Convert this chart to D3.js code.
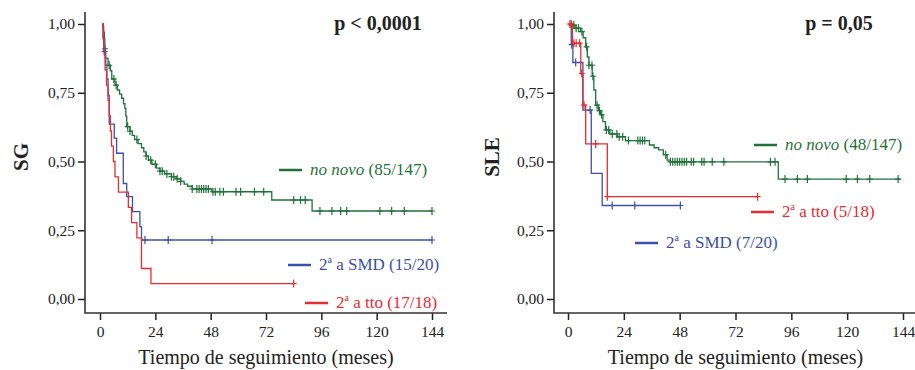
<!DOCTYPE html>
<html>
<head>
<meta charset="utf-8">
<script src="https://cdn.jsdelivr.net/npm/d3@7"></script>
<style>
  body { margin: 0; background: #fff; }
  text { font-family: "Liberation Serif", "Times New Roman", serif; }
</style>
</head>
<body>
<script>
var width = 915,
    height = 370,
    colors = {green: "#1f7239", blue: "#3d4fa8", red: "#eb2b30"},
    xTicks = [0, 24, 48, 72, 96, 120, 144],
    yTicks = [0, 0.25, 0.5, 0.75, 1];

// SG (supervivencia global) - [meses, supervivencia] tras cada caida
var sgNoNovo = [[1,1],[1.3,0.99],[1.6,0.97],[1.9,0.945],[2.1,0.91],[2.3,0.876],[3.5,0.85],[4.5,0.83],[5.1,0.80],[6.5,0.778],[7.5,0.76],[8.5,0.745],[9.4,0.73],[10.2,0.71],[10.8,0.693],[11.2,0.665],[11.6,0.627],[13,0.61],[14,0.595],[15,0.58],[16.5,0.565],[18,0.55],[19,0.535],[20,0.52],[21,0.505],[22.5,0.49],[24.5,0.476],[26,0.465],[28,0.455],[31,0.445],[33,0.437],[35,0.428],[36.5,0.418],[38,0.41],[40,0.40],[48.5,0.39],[74.5,0.36],[92,0.32]];
var sgNoNovoEnd = 144;
var sgNoNovoCens = [2.2,4,6,7,12,13,16,20,22,24,26,27,29,31,32,33.5,35,40,42,43,44,45,46,47,49,50,52,53.5,59,61,67,71,84,87,89,95.4,100.6,104.4,107,121.4,126.5,132,144];

var sgSmd = [[1,1],[1.3,0.95],[1.6,0.90],[2.5,0.85],[3,0.80],[3.5,0.74],[4,0.636],[6.2,0.585],[7.2,0.53],[10.1,0.42],[11.6,0.372],[14.1,0.318],[17.3,0.263],[18,0.2145]];
var sgSmdEnd = 144;
var sgSmdCens = [2, 19.5, 29.6, 48.6, 144];

var sgTto = [[1,1],[1.4,0.944],[1.8,0.889],[2.2,0.833],[2.8,0.778],[3.5,0.722],[4,0.667],[4.5,0.611],[5,0.556],[5.8,0.5],[6.5,0.444],[8,0.389],[12.3,0.333],[13.7,0.278],[16,0.222],[18,0.111],[22.1,0.056]];
var sgTtoEnd = 84;
var sgTtoCens = [84];

// SLE (supervivencia libre de evento)
var sleNoNovo = [[0.5,1],[1,0.996],[3,0.985],[5.4,0.972],[6.5,0.95],[7.6,0.917],[8.3,0.88],[9,0.85],[10.4,0.81],[11.1,0.76],[11.9,0.705],[13,0.685],[14,0.67],[15,0.645],[16.1,0.615],[18,0.60],[21.1,0.59],[24.7,0.576],[35,0.56],[37,0.55],[39,0.542],[41,0.525],[42.6,0.505],[44,0.499],[90.4,0.436]];
var sleNoNovoEnd = 143;
var sleNoNovoCens = [1.5,2.5,3.5,4.5,6,8,9,10.3,10.7,12.5,13.5,14.5,16.5,17.5,19,21,22,23.5,26,30,31,32,33,42,44,45,46,47,48,49,50,51,53,54,57.5,58.5,62,67,87,89,93.3,98.6,102.9,119.6,124.4,129.7,141.9];

var sleSmd = [[0.5,1],[1.4,0.925],[2.1,0.86],[6.4,0.687],[10,0.457],[14.7,0.34]];
var sleSmdEnd = 48.3;
var sleSmdCens = [1.6, 3.3, 9.5, 19, 28.7, 48.3];

var sleTto = [[0.5,1],[1.9,0.93],[5.5,0.82],[6.4,0.705],[7.6,0.564],[16.9,0.372]];
var sleTtoEnd = 81.5;
var sleTtoCens = [0.8, 1.4, 2.5, 3.5, 5, 5.9, 6.9, 11.9, 16.9, 81.5];

var fmt = function(d) { return d3.format(".2f")(d).replace(".", ","); };

var svg = d3.select("body").append("svg")
  .attr("width", width)
  .attr("height", height);

var y = d3.scaleLinear().domain([0, 1]).range([299, 24]);

var panels = [
  {
    xRange: [100, 432], axisX: 85, axisEnd: 447, label: "SG", labelX: 21, pval: "p < 0,0001", pvalX: 378,
    series: [
      {pts: sgNoNovo, end: sgNoNovoEnd, cens: sgNoNovoCens, color: colors.green},
      {pts: sgSmd, end: sgSmdEnd, cens: sgSmdCens, color: colors.blue},
      {pts: sgTto, end: sgTtoEnd, cens: sgTtoCens, color: colors.red}
    ],
    legend: [
      {x: 279, y: 170, color: colors.green, italic: "no novo", rest: " (85/147)"},
      {x: 288, y: 265, color: colors.blue, sup: true, rest: " a SMD (15/20)"},
      {x: 305, y: 303, color: colors.red, sup: true, rest: " a tto (17/18)"}
    ]
  },
  {
    xRange: [568, 903], axisX: 554, axisEnd: 916, label: "SLE", labelX: 492, pval: "p = 0,05", pvalX: 839,
    series: [
      {pts: sleNoNovo, end: sleNoNovoEnd, cens: sleNoNovoCens, color: colors.green},
      {pts: sleSmd, end: sleSmdEnd, cens: sleSmdCens, color: colors.blue},
      {pts: sleTto, end: sleTtoEnd, cens: sleTtoCens, color: colors.red}
    ],
    legend: [
      {x: 754, y: 145, color: colors.green, italic: "no novo", rest: " (48/147)"},
      {x: 751, y: 212, color: colors.red, sup: true, rest: " a tto (5/18)"},
      {x: 635, y: 243, color: colors.blue, sup: true, rest: " a SMD (7/20)"}
    ]
  }
];

function survAt(pts, t) {
  var s = pts[0][1];
  pts.forEach(function(p) { if (p[0] <= t) s = p[1]; });
  return s;
}

panels.forEach(function(p) {
  var x = d3.scaleLinear().domain([0, 144]).range(p.xRange);
  var g = svg.append("g");

  // ejes
  var ya = g.append("g")
    .attr("transform", "translate(" + p.axisX + ",0)")
    .call(d3.axisLeft(y).tickValues(yTicks).tickSize(7).tickPadding(3).tickFormat(fmt))
    .attr("font-family", null).attr("font-size", 15.5);
  ya.select(".domain").remove();

  var xa = g.append("g")
    .attr("transform", "translate(0,313)")
    .call(d3.axisBottom(x).tickValues(xTicks).tickSize(7).tickPadding(6))
    .attr("font-family", null).attr("font-size", 15.5);
  xa.select(".domain").remove();

  g.selectAll(".tick line").attr("stroke", "#222").attr("stroke-width", 1.5);
  g.selectAll(".tick text").attr("fill", "#222");

  g.append("path")
    .attr("d", "M" + p.axisX + ",12V313H" + p.axisEnd)
    .attr("fill", "none")
    .attr("stroke", "#333")
    .attr("stroke-width", 1.6);

  // curvas
  var line = d3.line()
    .x(function(d) { return x(d[0]); })
    .y(function(d) { return y(d[1]); })
    .curve(d3.curveStepAfter);

  p.series.forEach(function(s) {
    var pts = s.pts.concat([[s.end, s.pts[s.pts.length - 1][1]]]);
    g.append("path")
      .attr("d", line(pts))
      .attr("fill", "none")
      .attr("stroke", s.color)
      .attr("stroke-width", 1.3);

    g.selectAll(null)
      .data(s.cens)
      .enter()
      .append("path")
      .attr("d", function(t) {
        var cx = x(t), cy = y(survAt(s.pts, t));
        return "M" + cx + "," + (cy - 4) + "V" + (cy + 4) + "M" + (cx - 3) + "," + cy + "H" + (cx + 3);
      })
      .attr("stroke", s.color)
      .attr("stroke-width", 1.2)
      .attr("fill", "none");
  });

  // leyenda
  p.legend.forEach(function(l) {
    g.append("line")
      .attr("x1", l.x).attr("x2", l.x + 23)
      .attr("y1", l.y).attr("y2", l.y)
      .attr("stroke", l.color)
      .attr("stroke-width", 2.5);
    var t = g.append("text")
      .attr("x", l.x + 31)
      .attr("y", l.y)
      .attr("dy", "0.3em")
      .attr("font-size", 17)
      .attr("fill", l.color);
    if (l.italic) {
      t.append("tspan").attr("font-style", "italic").text(l.italic);
      t.append("tspan").text(l.rest);
    } else {
      t.append("tspan").text("2");
      t.append("tspan").attr("font-size", 10).attr("dy", -7).text("a");
      t.append("tspan").attr("dy", 7).text(l.rest);
    }
  });

  // titulos
  g.append("text")
    .attr("x", d3.mean(p.xRange))
    .attr("y", 364)
    .attr("text-anchor", "middle")
    .attr("font-size", 20)
    .attr("fill", "#222")
    .text("Tiempo de seguimiento (meses)");

  g.append("text")
    .attr("transform", "translate(" + (p.labelX + 7) + ",157) rotate(-90)")
    .attr("text-anchor", "middle")
    .attr("font-size", 21)
    .attr("font-weight", "bold")
    .attr("fill", "#222")
    .text(p.label);

  g.append("text")
    .attr("x", p.pvalX)
    .attr("y", 30)
    .attr("text-anchor", "middle")
    .attr("font-size", 20)
    .attr("font-weight", "bold")
    .attr("fill", "#222")
    .text(p.pval);
});
</script>
</body>
</html>
